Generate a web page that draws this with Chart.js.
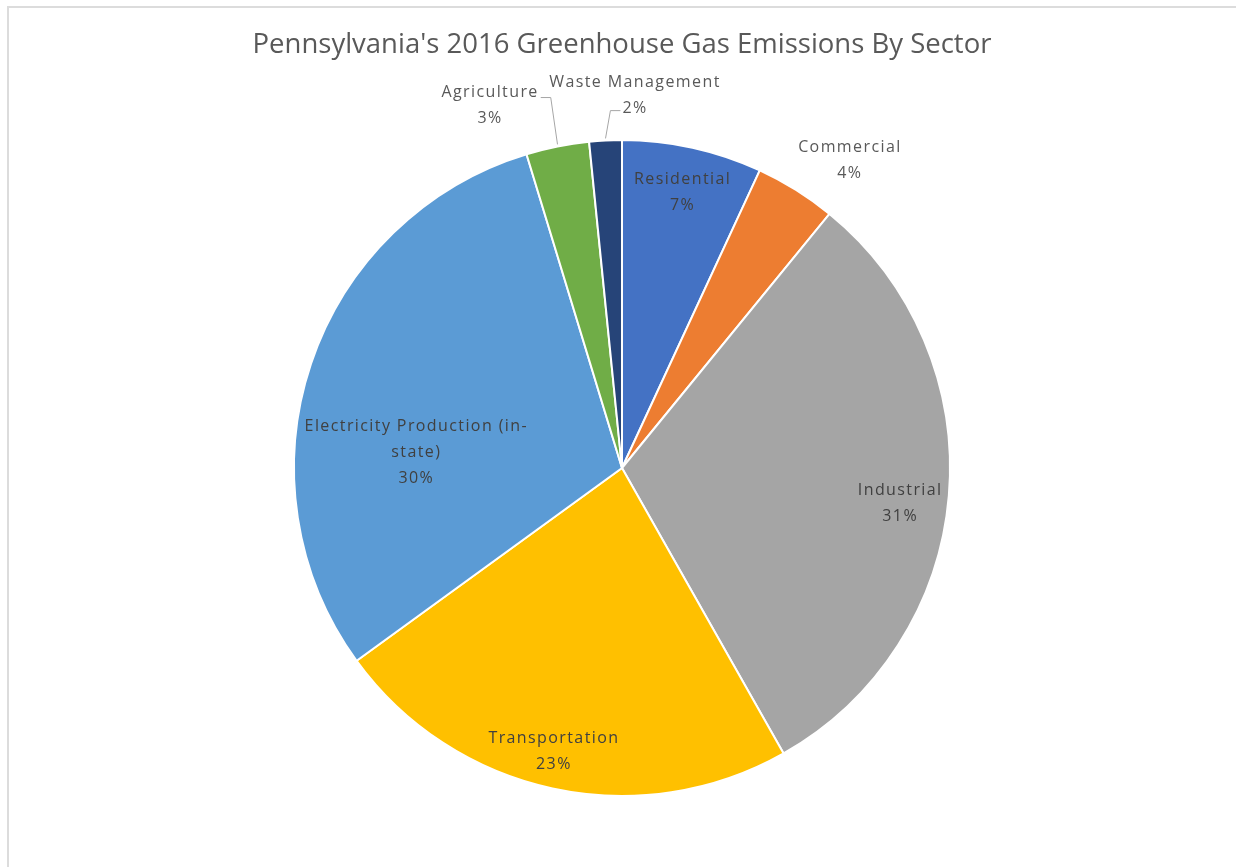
<!DOCTYPE html>
<html lang="en">
<head>
<meta charset="UTF-8">
<title>Pennsylvania's 2016 Greenhouse Gas Emissions By Sector</title>
<script src="https://cdn.jsdelivr.net/npm/chart.js"></script>
<style>
    html, body { margin: 0; padding: 0; background: #ffffff; overflow: hidden; }
    .frame {
        position: absolute; left: 7px; top: 6px; width: 1300px; height: 900px;
        border-left: 2px solid #dcdcdc; border-top: 2px solid #dcdcdc;
    }
    .chart-box { position: absolute; left: 0; top: 0; width: 1236px; height: 867px; }
</style>
</head>
<body>
<div class="frame"></div>
<div class="chart-box"><canvas id="sectorChart" width="1236" height="867"></canvas></div>

<script>
    // data (share of total, %)
    const sectors = ['Residential', 'Commercial', 'Industrial', 'Transportation',
        'Electricity Production (in-state)', 'Agriculture', 'Waste Management'];
    const shares = [6.9, 4.0, 30.9, 23.2, 30.3, 3.1, 1.6];
    const sliceColors = ['#4472C4', '#ED7D31', '#A5A5A5', '#FFC000', '#5B9BD5', '#70AD47', '#264478'];

    // how each label is wrapped, as Excel shows it
    const labelLines = [['Residential'], ['Commercial'], ['Industrial'], ['Transportation'],
        ['Electricity Production (in-', 'state)'], ['Agriculture'], ['Waste Management']];

    // label placement: angle (deg, clockwise from top) and distance as fraction of radius
    const labelAngle = [12.4, 36.5, 97.3, 193.5, 274.4, 340, 2.0];
    const labelRadius = [0.86, 1.168, 0.855, 0.889, 0.629, 1.176, 1.136];
    const labelLeader = [null, null, null, null, null, 'right0', 'left1'];

    const dataLabels = {
        id: 'dataLabels',
        afterDatasetsDraw(chart) {
            const ctx = chart.ctx;
            const meta = chart.getDatasetMeta(0);
            const total = shares.reduce((a, b) => a + b, 0);
            const lh = 26;
            ctx.save();
            ctx.font = '16px "Open Sans", sans-serif';
            ctx.letterSpacing = '1.4px';
            ctx.textAlign = 'center';
            ctx.textBaseline = 'middle';
            meta.data.forEach((arc, i) => {
                const p = arc.getProps(['x', 'y', 'startAngle', 'endAngle', 'outerRadius'], true);
                const a = labelAngle[i] * Math.PI / 180;
                const r = p.outerRadius * labelRadius[i];
                const cx = p.x + r * Math.sin(a);
                const cy = p.y - r * Math.cos(a);
                const lines = labelLines[i].concat([Math.round(shares[i] / total * 100) + '%']);
                const y0 = cy - (lines.length - 1) * lh / 2;
                const outside = labelRadius[i] > 1;
                ctx.fillStyle = outside ? '#595959' : '#404040';
                lines.forEach((t, k) => ctx.fillText(t, cx, y0 + k * lh));

                if (labelLeader[i]) {
                    const mid = (p.startAngle + p.endAngle) / 2;
                    const ex = p.x + p.outerRadius * Math.cos(mid);
                    const ey = p.y + p.outerRadius * Math.sin(mid);
                    const k = labelLeader[i] === 'right0' ? 0 : 1;
                    const w = ctx.measureText(lines[k]).width;
                    let sx, kx, ly;
                    if (labelLeader[i] === 'right0') {
                        sx = cx + w / 2 + 2; kx = sx + 10; ly = y0 + k * lh + 5;
                    } else {
                        sx = cx - w / 2 - 2; kx = sx - 10; ly = y0 + k * lh + 2;
                    }
                    ctx.strokeStyle = '#a6a6a6';
                    ctx.lineWidth = 1;
                    ctx.beginPath();
                    ctx.moveTo(sx, ly);
                    ctx.lineTo(kx, ly);
                    ctx.lineTo(ex, ey - 2);
                    ctx.stroke();
                }
            });
            ctx.restore();
        }
    };

    const sectorCtx = document.getElementById('sectorChart').getContext('2d');
    const sectorChart = new Chart(sectorCtx, {
        type: 'pie',
        data: {
            labels: sectors,
            datasets: [{
                data: shares,
                backgroundColor: sliceColors,
                borderColor: '#ffffff',
                borderWidth: 2
            }]
        },
        options: {
            responsive: false,
            animation: false,
            layout: { padding: { left: 8, right: 0, top: 0, bottom: 70 } },
            plugins: {
                legend: { display: false },
                tooltip: { enabled: false },
                title: {
                    display: true,
                    text: "Pennsylvania's 2016 Greenhouse Gas Emissions By Sector",
                    color: '#595959',
                    font: { family: '"Open Sans", sans-serif', size: 27.5, weight: 'normal' },
                    padding: { top: 29, bottom: 77 }
                }
            }
        },
        plugins: [dataLabels]
    });
</script>
</body>
</html>
